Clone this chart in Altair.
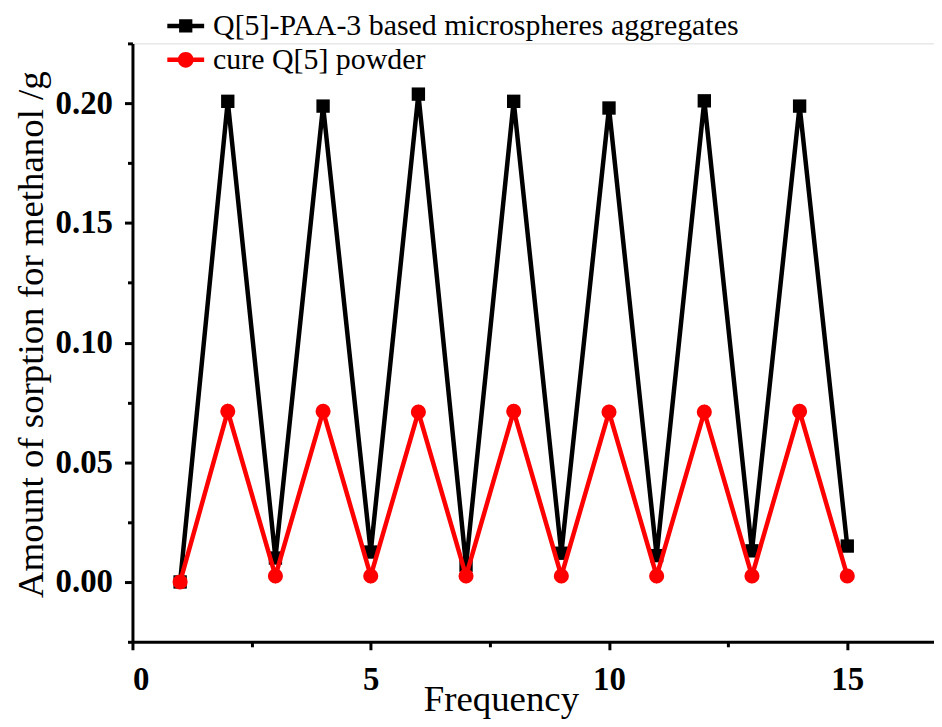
import altair as alt
import pandas as pd

frequency = list(range(1, 16))
black_vals = [0.000, 0.2008, 0.0100, 0.1988, 0.0125, 0.2038, 0.0070, 0.2008,
              0.0120, 0.1980, 0.0110, 0.2010, 0.0130, 0.1988, 0.0150]
red_vals = [0.000, 0.0713, 0.0025, 0.0713, 0.0025, 0.0710, 0.0025, 0.0713,
            0.0025, 0.0710, 0.0025, 0.0710, 0.0025, 0.0713, 0.0025]
series_names = ["Q[5]-PAA-3 based microspheres aggregates", "cure Q[5] powder"]
series_colors = ["#000000", "#ff0000"]
x_major = [0, 5, 10, 15]
x_minor = [2.5, 7.5, 12.5]
y_major = [0.0, 0.05, 0.10, 0.15, 0.20]
y_minor = [-0.025, 0.025, 0.075, 0.125, 0.175, 0.225]

rows = []
for f, b in zip(frequency, black_vals):
    rows.append({"series": series_names[0], "freq": f, "amount": b})
for f, r in zip(frequency, red_vals):
    rows.append({"series": series_names[1], "freq": f, "amount": r})
df = pd.DataFrame(rows)

FONT = "Liberation Serif"
xscale = alt.Scale(domain=[0, 16.82], nice=False, zero=False)
yscale = alt.Scale(domain=[-0.025, 0.225], nice=False, zero=False)
cscale = alt.Scale(domain=series_names, range=series_colors)

# legend symbols: line segment with marker
sq_path = ("M-1,-0.12 L1,-0.12 L1,0.12 L-1,0.12 Z "
           "M-0.36,-0.36 L0.36,-0.36 L0.36,0.36 L-0.36,0.36 Z")
ci_path = ("M-1,-0.12 L1,-0.12 L1,0.12 L-1,0.12 Z "
           "M-0.43,0 A0.43,0.43 0 1,1 0.43,0 A0.43,0.43 0 1,1 -0.43,0 Z")

x_axis = alt.Axis(values=x_major, title="Frequency", grid=False,
                  labelFont=FONT, labelFontSize=33, labelFontWeight="bold",
                  labelColor="black", labelPadding=14,
                  titleFont=FONT, titleFontSize=37, titleFontWeight="normal",
                  titleColor="black", titleX=370, titleY=69,
                  titleBaseline="alphabetic",
                  tickSize=8, tickWidth=3, tickColor="black",
                  domainWidth=3, domainColor="black", orient="bottom")
y_axis = alt.Axis(values=y_major, format=".2f",
                  title="Amount of sorption for methanol /g", grid=False,
                  labelFont=FONT, labelFontSize=33, labelFontWeight="bold",
                  labelColor="black", labelPadding=12,
                  titleFont=FONT, titleFontSize=37, titleFontWeight="normal",
                  titleColor="black", titleX=-101, titleY=292,
                  titleBaseline="middle",
                  tickSize=8, tickWidth=3, tickColor="black",
                  domainWidth=3, domainColor="black", orient="left")

x_minor_axis = alt.Axis(values=x_minor, title=None, labels=False, grid=False,
                        tickSize=5, tickWidth=3, tickColor="black",
                        domain=False, orient="bottom")
y_minor_axis = alt.Axis(values=y_minor, title=None, labels=False, grid=False,
                        tickSize=5, tickWidth=3, tickColor="black",
                        domain=False, orient="left")

base = alt.Chart(df)

def enc(chart, xa, ya):
    return chart.encode(
        x=alt.X("freq:Q", scale=xscale, axis=xa),
        y=alt.Y("amount:Q", scale=yscale, axis=ya),
        color=alt.Color("series:N", scale=cscale, legend=None),
    )

black_line = enc(base.transform_filter(alt.datum.series == series_names[0])
                 .mark_line(strokeWidth=4.5), x_axis, y_axis)
black_pts = enc(base.transform_filter(alt.datum.series == series_names[0])
                .mark_point(shape="square", filled=True, size=180, opacity=1),
                x_minor_axis, y_minor_axis)
red_line = enc(base.transform_filter(alt.datum.series == series_names[1])
               .mark_line(strokeWidth=4.5), None, None)
red_pts = enc(base.transform_filter(alt.datum.series == series_names[1])
              .mark_point(shape="circle", filled=True, size=230, opacity=1),
              None, None)

legend = alt.Legend(orient="none", legendX=35, legendY=-36, title=None,
                    labelFont=FONT, labelFontSize=30, labelColor="black",
                    symbolSize=1369, symbolStrokeWidth=0, symbolOpacity=1,
                    labelOffset=9, rowPadding=0, labelLimit=800)

legend_layer = base.mark_point(filled=True, size=0).encode(
    x=alt.X("freq:Q", scale=xscale, axis=None),
    y=alt.Y("amount:Q", scale=yscale, axis=None),
    color=alt.Color("series:N", scale=cscale, legend=legend),
    shape=alt.Shape("series:N", scale=alt.Scale(domain=series_names,
                                                range=[sq_path, ci_path]),
                    legend=legend),
)

chart = alt.layer(legend_layer, black_line, black_pts, red_line, red_pts).resolve_axis(
    x="independent", y="independent"
).properties(
    width=805, height=601,
    autosize=alt.AutoSizeParams(type="none"),
    padding={"left": 125, "top": 34, "right": 0, "bottom": 76},
).configure_view(strokeWidth=0, stroke="transparent").configure(
    background="white"
).configure_axisTop(disable=True).configure_axisRight(disable=True)

chart.save("out.html", embed_options={"renderer": "svg", "actions": False})
